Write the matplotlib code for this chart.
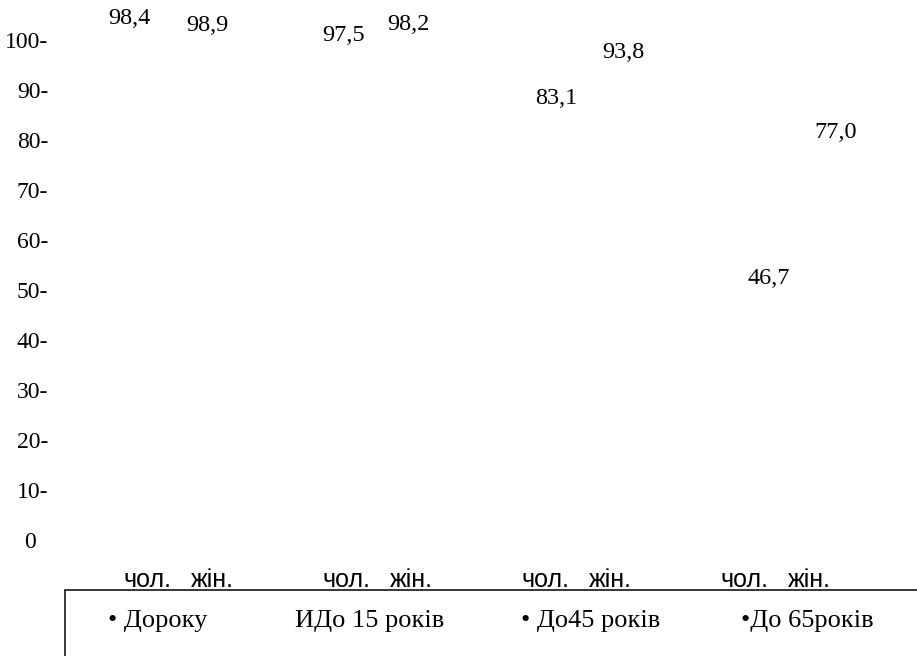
import matplotlib
matplotlib.use("Agg")
import matplotlib.pyplot as plt
from matplotlib.patches import Rectangle

# Share of survivors (%) by age group, men vs women
groups = ["Дороку", "ИДо 15 років", "До45 років", "До 65років"]
group_bullets = ["• ", "", "• ", "•"]
sexes = ["чол.", "жін."]
male = [98.4, 97.5, 83.1, 46.7]
female = [98.9, 98.2, 93.8, 77.0]
yticks = [0, 10, 20, 30, 40, 50, 60, 70, 80, 90, 100]

# label nudges in pixels (dx, dy above the bar top): men, women per group
label_dx = [(-18, -5), (-3, -3), (11, 13), (25, 26)]
label_dy = [(30, 20), (17, 25), (26, 19), (28, 22)]
legend_x = [108, 295, 521, 741]

serif = "Liberation Serif"
sans = "Liberation Sans"

fig = plt.figure(figsize=(9.17, 6.56), dpi=100)
W, H = 917, 656
ax = fig.add_axes([65 / W, 116 / H, 852 / W, 540 / H])
ax.set_xlim(-0.578, 3.704)
ax.set_ylim(0, 108)

off = 0.165
xt, xl = [], []
for i, (m, f) in enumerate(zip(male, female)):
    xs = [i - off, i + off]
    ax.bar(xs, [m, f], width=0.3, color="white", edgecolor="none",
           label=groups[i])
    for j, (x, v) in enumerate(zip(xs, [m, f])):
        ax.annotate(f"{v:.1f}".replace(".", ","), xy=(x, v),
                    xytext=(label_dx[i][j], label_dy[i][j]),
                    textcoords="offset pixels", ha="center", va="center",
                    fontsize=17.5, family=serif, color="black",
                    annotation_clip=False)
    xt += xs
    xl += sexes

ax.set_xticks(xt)
ax.set_xticklabels(xl, fontsize=18, family=sans)
ax.tick_params(axis="x", length=0, pad=20)

ax.set_yticks(yticks)
ax.set_yticklabels([f"{t}-" if t else "0  " for t in yticks],
                   fontsize=17, family=serif)
ax.tick_params(axis="y", length=0, pad=12)

for s in ax.spines.values():
    s.set_visible(False)

# frame around the group key, running off the bottom and right edges
fig.patches.append(Rectangle((65 / W, -0.2), 1.0, (656 - 590) / H + 0.2,
                             transform=fig.transFigure, fill=False,
                             edgecolor="black", linewidth=1.1,
                             clip_on=False))
for x, b, g in zip(legend_x, group_bullets, groups):
    fig.text(x / W, 1 - 621 / H, b + g, ha="left", va="center",
             fontsize=19, family=serif)

fig.savefig("out.png", dpi=100)
